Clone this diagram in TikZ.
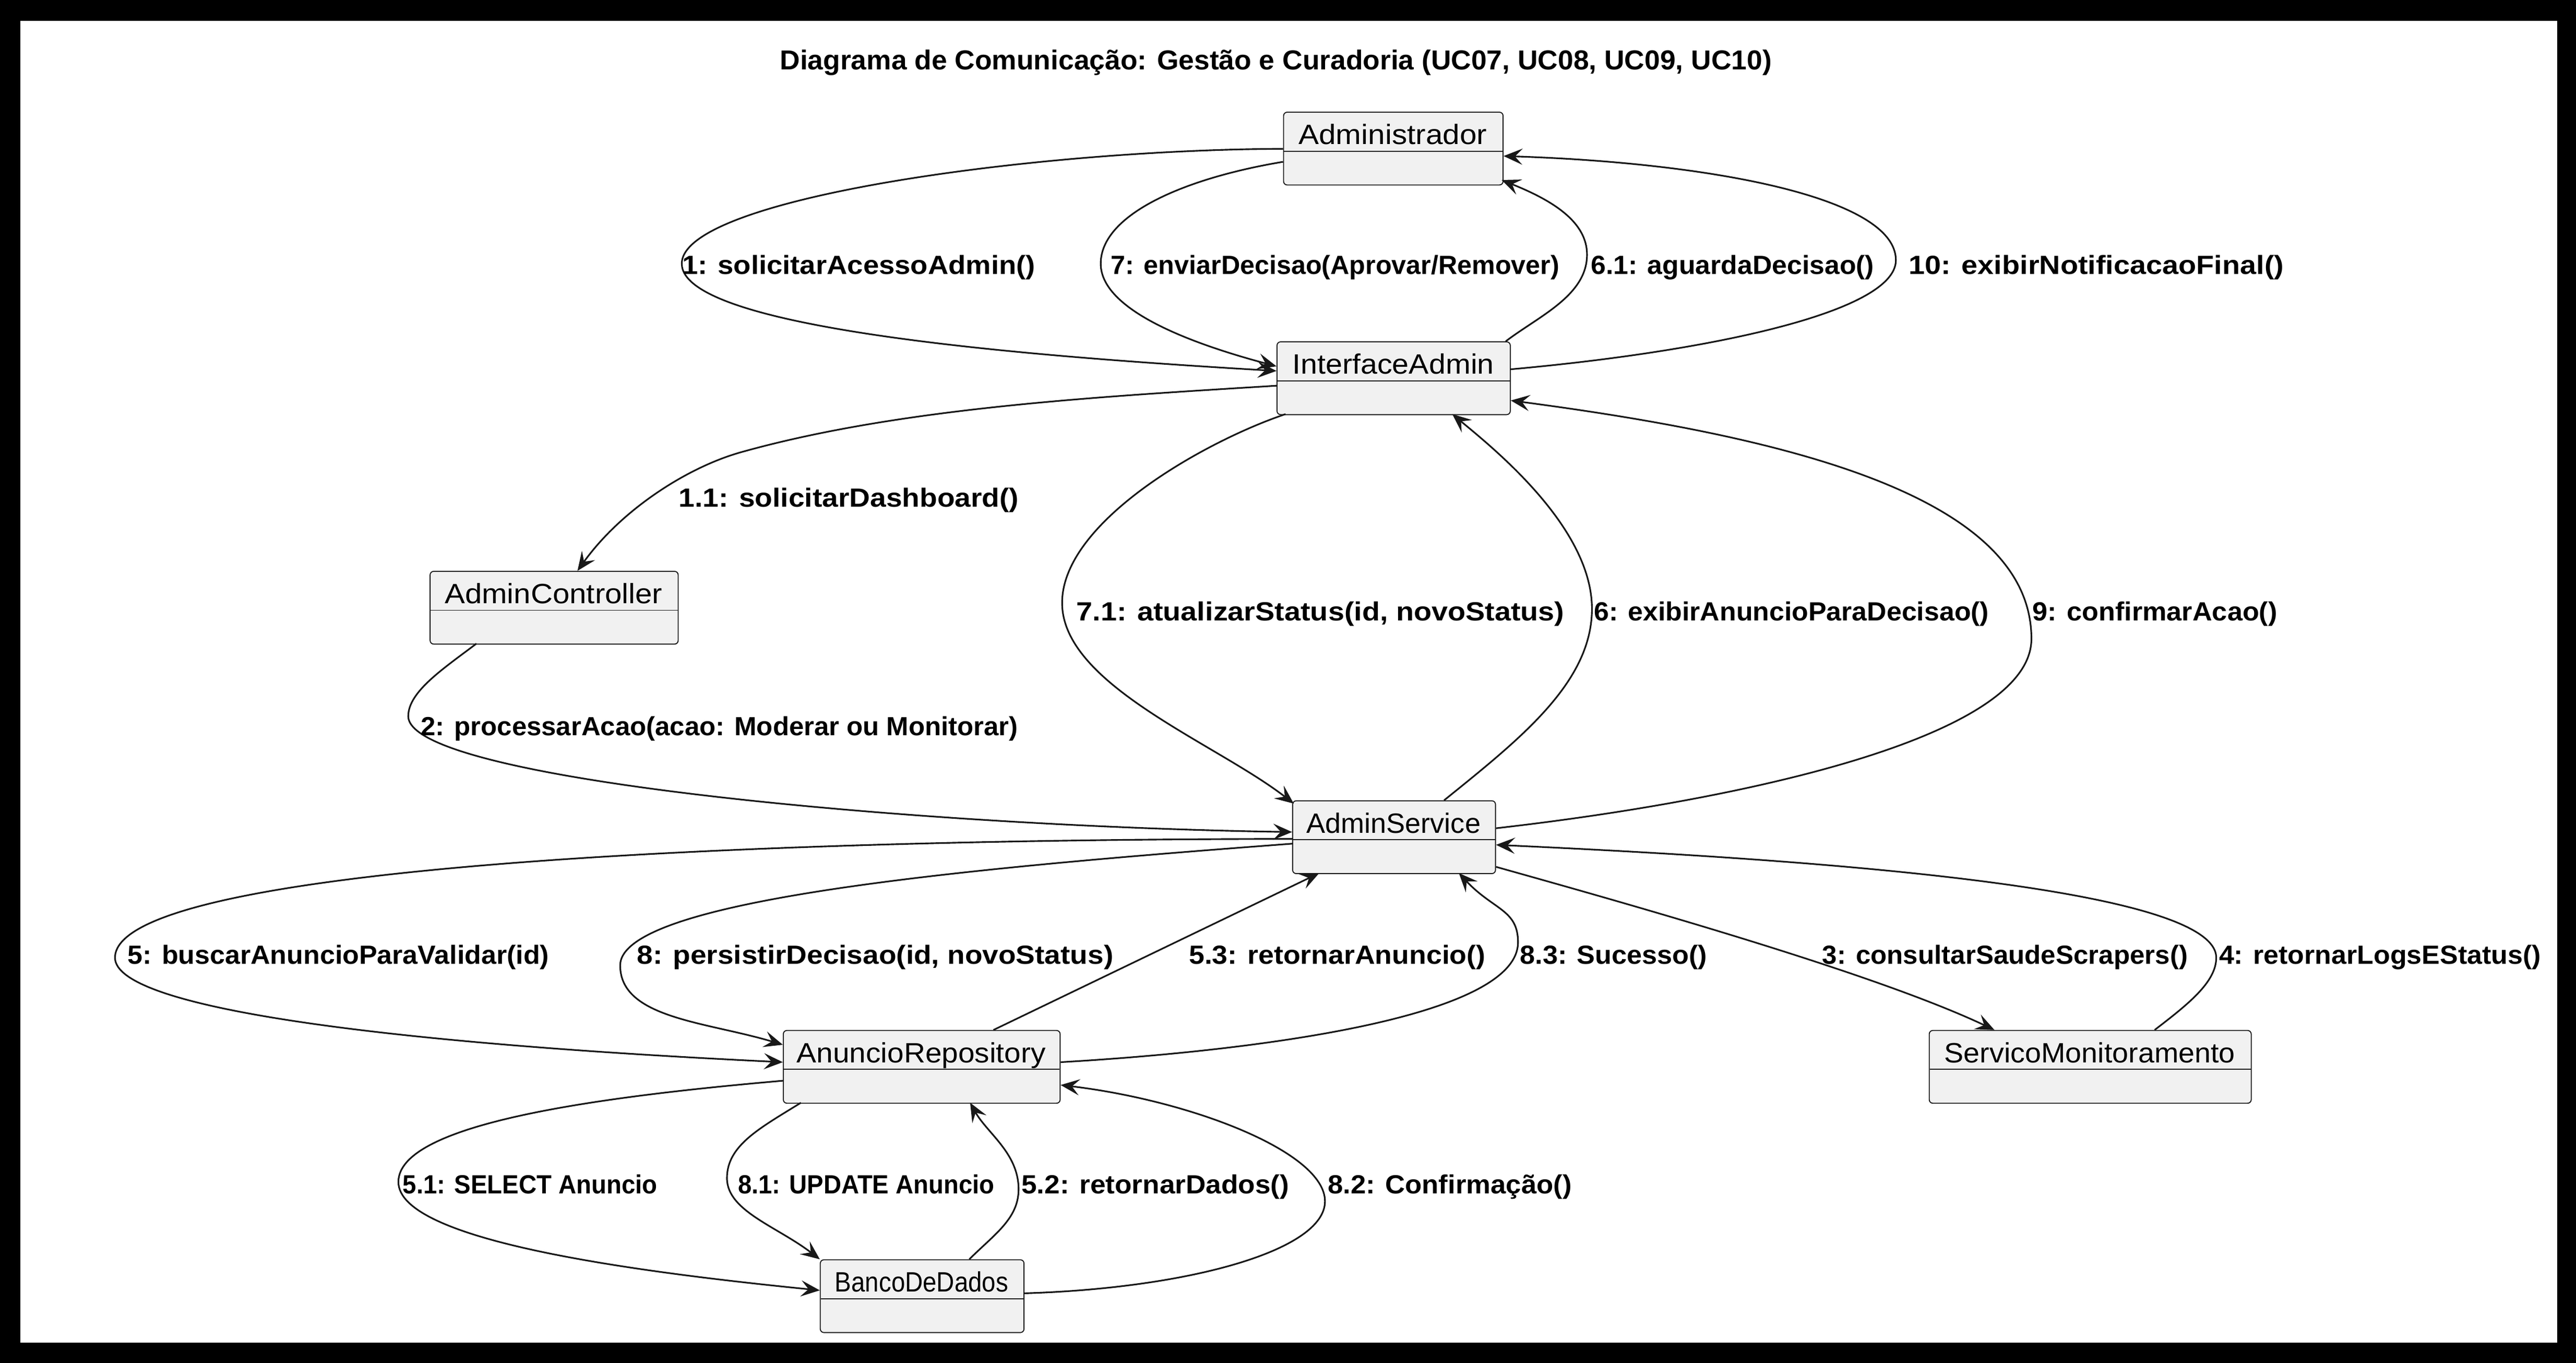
\documentclass[tikz,border=0pt]{standalone}
\usepackage{fontspec}
\setmainfont{Liberation Sans}
\usepackage{graphicx}
\usetikzlibrary{arrows.meta}
\definecolor{boxfill}{HTML}{F1F1F1}
\definecolor{ink}{HTML}{181818}
\newcommand{\fitw}[2]{\resizebox{#1pt}{\height}{#2}}
\tikzset{
  classbox/.style={draw=ink, fill=boxfill, line width=0.6pt, rounded corners=2.2pt, minimum height=44.3pt, inner sep=0pt, anchor=north west},
  nametext/.style={anchor=base, inner sep=0pt, font=\fontsize{17}{17}\selectfont, text=black},
  msglabel/.style={anchor=base west, inner sep=0pt, font=\bfseries\fontsize{16}{16}\selectfont, text=black},
  msg/.style={draw=ink, line width=1pt, -{Stealth[length=11.5pt,width=9.8pt,inset=4.6pt]}},
  sepline/.style={draw=ink, line width=0.6pt},
  titletext/.style={anchor=base, inner sep=0pt, font=\bfseries\fontsize{16.7}{16.7}\selectfont, text=black}
}
\begin{document}
\begin{tikzpicture}[x=1pt,y=-1pt]
\useasboundingbox (0,0) rectangle (1568,829.7);
\fill[black] (0,0) rectangle (1568,829.7);
\fill[white] (12.3,12.8) rectangle (1556.5,817.2);

\node[titletext] (title) at (776.6,42.5) {\fitw{603.7}{Diagrama de Comunicação: Gestão e Curadoria (UC07, UC08, UC09, UC10)}};

% class boxes
\node[classbox, minimum width=133.6pt] (admin) at (781,68) {};
\node[classbox, minimum width=142pt] (ia) at (777,207.8) {};
\node[classbox, minimum width=151pt] (ac) at (261.5,347.5) {};
\node[classbox, minimum width=123.5pt] (as) at (786.5,487.2) {};
\node[classbox, minimum width=168.5pt] (ar) at (476.5,627) {};
\node[classbox, minimum width=196pt] (sm) at (1174,627) {};
\node[classbox, minimum width=124pt] (bd) at (499,766.6) {};

\foreach \n in {admin,ia,ac,as,ar,sm,bd}{
  \draw[sepline] ([xshift=0.6pt,yshift=-24pt]\n.north west) -- ([xshift=-0.6pt,yshift=-24pt]\n.north east);
}

\node[nametext] (adminT) at (847.8,87.8) {\fitw{114.7}{Administrador}};
\node[nametext] (iaT) at (848,227.6) {\fitw{122.8}{InterfaceAdmin}};
\node[nametext] (acT) at (337,367.3) {\fitw{132.5}{AdminController}};
\node[nametext] (asT) at (848.25,507) {\fitw{106}{AdminService}};
\node[nametext] (arT) at (560.75,646.8) {\fitw{151.5}{AnuncioRepository}};
\node[nametext] (smT) at (1272,646.8) {\fitw{177}{ServicoMonitoramento}};
\node[nametext] (bdT) at (561,786.4) {\fitw{105.5}{BancoDeDados}};

% messages
% 1
\draw[msg] ([yshift=-22.6pt]admin.north west) .. controls (631,91) and (415,120.5) .. (415,160.5) .. controls (415,200.5) and (627,217) .. ([yshift=-18pt]ia.north west);
% 7
\draw[msg] ([yshift=-30.5pt]admin.north west) .. controls (721,108.5) and (670,130.5) .. (670,160.5) .. controls (670,190.5) and (732,211) .. ([yshift=-15.2pt]ia.north west);
% 6.1
\draw[msg] ([xshift=139.5pt]ia.north west) .. controls (936.5,192.5) and (966,180) .. (966,155) .. controls (966,135) and (945,122) .. ([xshift=133pt,yshift=-41.6pt]admin.north west);
% 10
\draw[msg] ([yshift=-17pt]ia.north east) .. controls (1040,214) and (1154,190) .. (1154,158.4) .. controls (1154,120) and (1040,99) .. ([yshift=-27pt]admin.north east);
% 1.1
\draw[msg] ([yshift=-27pt]ia.north west) .. controls (667,241.6) and (547.3,248.3) .. (451,275.3) .. controls (417.3,284.8) and (377.6,311.1) .. ([xshift=90pt]ac.north west);
% 2
\draw[msg] ([xshift=28.5pt,yshift=-44.3pt]ac.north west) .. controls (270,407) and (248.5,421) .. (248.5,436) .. controls (248.5,475) and (560,503) .. ([yshift=-19.3pt]as.north west);
% 7.1
\draw[msg] ([xshift=5.5pt,yshift=-44.3pt]ia.north west) .. controls (735,268) and (646.5,317) .. (646.5,367) .. controls (646.5,417) and (740,452.3) .. ([xshift=1pt,yshift=-2pt]as.north west);
% 6
\draw[msg] ([xshift=92.5pt]as.north west) .. controls (925,450) and (969,415.6) .. (969,370.6) .. controls (969,320.6) and (908,272.1) .. ([xshift=107pt,yshift=-44.3pt]ia.north west);
% 9
\draw[msg] ([yshift=-17pt]as.north east) .. controls (1060,487.2) and (1236.5,448.9) .. (1236.5,388.9) .. controls (1236.5,300) and (1080,265) .. ([yshift=-36pt]ia.north east);
% 5
\draw[msg] ([yshift=-23.5pt]as.north west) .. controls (420,511) and (70,530) .. (70,583) .. controls (70,613) and (226.5,634.6) .. ([yshift=-19.6pt]ar.north west);
% 8
\draw[msg] ([yshift=-26.4pt]as.north west) .. controls (586.5,528.6) and (377.5,547.7) .. (377.5,587.7) .. controls (377.5,620) and (430,622) .. ([yshift=-9pt]ar.north west);
% 5.3
\draw[msg] ([xshift=128.2pt]ar.north west) -- ([xshift=16.5pt,yshift=-44.3pt]as.north west);
% 8.3
\draw[msg] ([yshift=-19.6pt]ar.north east) .. controls (760,640) and (924,620) .. (924,573.6) .. controls (924,553.6) and (909,554) .. ([xshift=101.5pt,yshift=-44.3pt]as.north west);
% 3
\draw[msg] ([yshift=-40.5pt]as.north east) .. controls (990,550) and (1140,592) .. ([xshift=40pt]sm.north west);
% 4
\draw[msg] ([xshift=137.5pt]sm.north west) .. controls (1331.5,611.6) and (1349,598) .. (1349,583) .. controls (1349,540) and (1100,523) .. ([yshift=-27.1pt]as.north east);
% 5.1
\draw[msg] ([yshift=-30.9pt]ar.north west) .. controls (360,668) and (242.5,684.5) .. (242.5,719.5) .. controls (242.5,754.5) and (379,773.5) .. ([yshift=-18.9pt]bd.north west);
% 8.1
\draw[msg] ([xshift=11pt,yshift=-44.3pt]ar.north west) .. controls (462.5,686.8) and (442.5,697.2) .. (442.5,717.2) .. controls (442.5,737.2) and (473,746.6) .. (bd.north west);
% 5.2
\draw[msg] ([xshift=91pt]bd.north west) .. controls (605,751.6) and (620,742) .. (620,724) .. controls (620,702) and (601,690) .. ([xshift=114pt,yshift=-44.3pt]ar.north west);
% 8.2
\draw[msg] ([yshift=-20.7pt]bd.north east) .. controls (723,784.3) and (806.5,761.3) .. (806.5,731.3) .. controls (806.5,701.3) and (725,670) .. ([yshift=-33.5pt]ar.north east);

% labels
\node[msglabel] (m1) at (415,167) {\fitw{215}{1: solicitarAcessoAdmin()}};
\node[msglabel] (m7) at (676,167) {\fitw{273}{7: enviarDecisao(Aprovar/Remover)}};
\node[msglabel] (m61) at (968.2,167) {\fitw{172.4}{6.1: aguardaDecisao()}};
\node[msglabel] (m10) at (1161.6,167) {\fitw{228.4}{10: exibirNotificacaoFinal()}};
\node[msglabel] (m11) at (413,308.7) {\fitw{207}{1.1: solicitarDashboard()}};
\node[msglabel] (m71) at (655,378) {\fitw{297}{7.1: atualizarStatus(id, novoStatus)}};
\node[msglabel] (m6) at (970,378) {\fitw{240.5}{6: exibirAnuncioParaDecisao()}};
\node[msglabel] (m9) at (1237,378) {\fitw{149}{9: confirmarAcao()}};
\node[msglabel] (m2) at (256,447.6) {\fitw{363.5}{2: processarAcao(acao: Moderar ou Monitorar)}};
\node[msglabel] (m5) at (77.5,587) {\fitw{256.5}{5: buscarAnuncioParaValidar(id)}};
\node[msglabel] (m8) at (387.5,587) {\fitw{290}{8: persistirDecisao(id, novoStatus)}};
\node[msglabel] (m53) at (723.5,587) {\fitw{180.5}{5.3: retornarAnuncio()}};
\node[msglabel] (m83) at (925,587) {\fitw{114}{8.3: Sucesso()}};
\node[msglabel] (m3) at (1109,587) {\fitw{222.5}{3: consultarSaudeScrapers()}};
\node[msglabel] (m4) at (1350.5,587) {\fitw{196}{4: retornarLogsEStatus()}};
\node[msglabel] (m51) at (245,726.5) {\fitw{155}{5.1: SELECT Anuncio}};
\node[msglabel] (m81) at (449,726.5) {\fitw{156}{8.1: UPDATE Anuncio}};
\node[msglabel] (m52) at (621.5,726.5) {\fitw{163}{5.2: retornarDados()}};
\node[msglabel] (m82) at (808,726.5) {\fitw{148.5}{8.2: Confirmação()}};
\end{tikzpicture}
\end{document}
